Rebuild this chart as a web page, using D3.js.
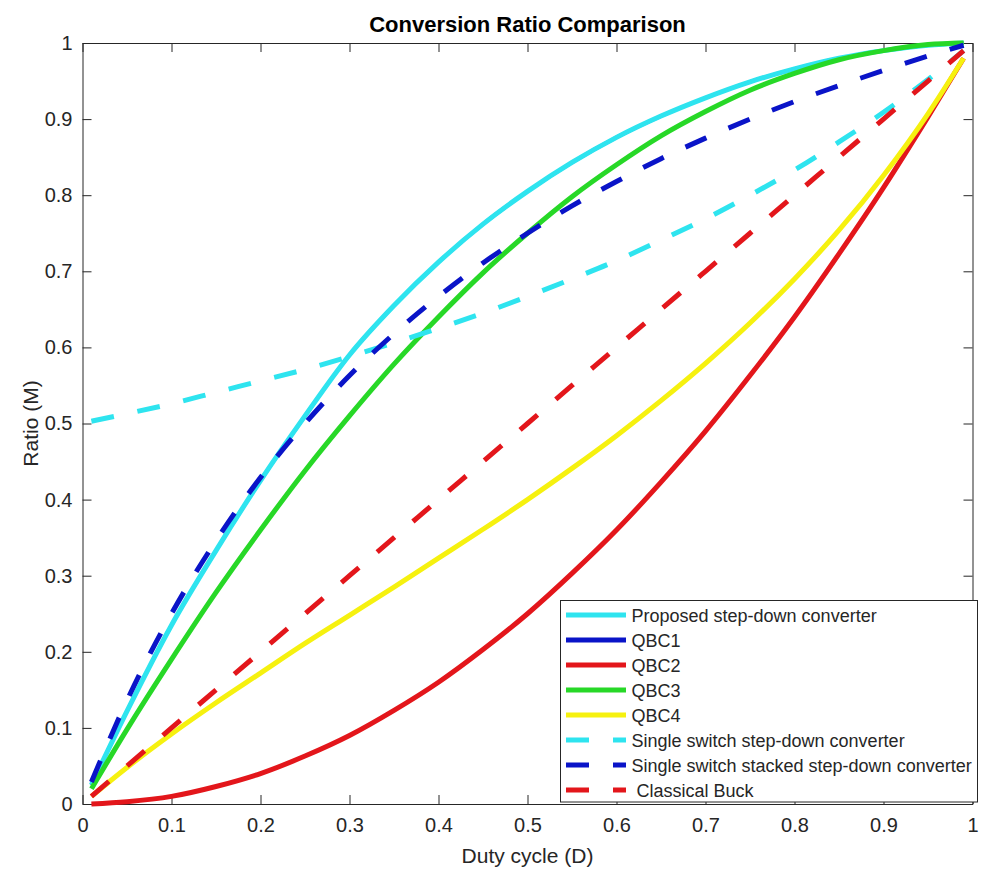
<!DOCTYPE html>
<html>
<head>
<meta charset="utf-8">
<script src="https://cdn.jsdelivr.net/npm/d3@7"></script>
<style>
  body { margin: 0; background: #fff; }
  text { font-family: "Liberation Sans", Arial, sans-serif; fill: #262626; }
</style>
</head>
<body>
<div id="chart"></div>
<script>
// Duty cycle samples (x values shared by every series)
const duty = [0.01, 0.05, 0.10, 0.15, 0.20, 0.25, 0.30, 0.35, 0.40, 0.45, 0.50,
              0.55, 0.60, 0.65, 0.70, 0.75, 0.80, 0.85, 0.90, 0.95, 0.99];

// Ratio values
const proposed = [0.025, 0.122, 0.235, 0.333, 0.425, 0.510, 0.590, 0.655, 0.712, 0.762, 0.805,
                  0.843, 0.876, 0.904, 0.928, 0.949, 0.966, 0.980, 0.990, 0.997, 1.000];
const qbc1     = [0.025, 0.122, 0.235, 0.333, 0.425, 0.510, 0.590, 0.655, 0.712, 0.762, 0.805,
                  0.843, 0.876, 0.904, 0.928, 0.949, 0.966, 0.980, 0.990, 0.997, 1.000];
const qbc2     = [0.000, 0.003, 0.010, 0.023, 0.040, 0.063, 0.090, 0.123, 0.160, 0.203, 0.250,
                  0.303, 0.360, 0.423, 0.490, 0.563, 0.640, 0.723, 0.810, 0.903, 0.980];
const qbc3     = [0.020, 0.098, 0.190, 0.278, 0.360, 0.438, 0.510, 0.578, 0.640, 0.698, 0.750,
                  0.798, 0.840, 0.878, 0.910, 0.938, 0.960, 0.978, 0.990, 0.998, 1.000];
const qbc4     = [0.010, 0.048, 0.092, 0.133, 0.172, 0.211, 0.248, 0.285, 0.323, 0.361, 0.400,
                  0.441, 0.484, 0.530, 0.579, 0.632, 0.690, 0.754, 0.826, 0.907, 0.980];
const singleSw = [0.503, 0.513, 0.526, 0.541, 0.556, 0.571, 0.588, 0.606, 0.625, 0.645, 0.667,
                  0.690, 0.714, 0.741, 0.769, 0.800, 0.833, 0.870, 0.909, 0.952, 0.990];
const stacked  = [0.029, 0.136, 0.250, 0.346, 0.429, 0.500, 0.563, 0.618, 0.667, 0.711, 0.750,
                  0.786, 0.818, 0.848, 0.875, 0.900, 0.923, 0.944, 0.964, 0.983, 0.997];
const buck     = [0.010, 0.050, 0.100, 0.150, 0.200, 0.250, 0.300, 0.350, 0.400, 0.450, 0.500,
                  0.550, 0.600, 0.650, 0.700, 0.750, 0.800, 0.850, 0.900, 0.950, 0.990];

const seriesNames = ["Proposed step-down converter", "QBC1", "QBC2", "QBC3", "QBC4",
                     "Single switch step-down converter", "Single switch stacked step-down converter",
                     " Classical Buck"];
const seriesValues = [proposed, qbc1, qbc2, qbc3, qbc4, singleSw, stacked, buck];
const seriesColors = ["#2ee4ef", "#0a14c8", "#e3161b", "#27d827", "#f6f10f", "#2ee4ef", "#0a14c8", "#e3161b"];
const seriesDashed = [false, false, false, false, false, true, true, true];
// QBC1 sits underneath the proposed curve, so draw it first
const drawOrder = [1, 0, 2, 3, 4, 5, 6, 7];

const xTicks = [0, 0.1, 0.2, 0.3, 0.4, 0.5, 0.6, 0.7, 0.8, 0.9, 1];
const yTicks = [0, 0.1, 0.2, 0.3, 0.4, 0.5, 0.6, 0.7, 0.8, 0.9, 1];

const width = 984, height = 869;
const margin = {left: 82.5, right: 11.5, top: 43, bottom: 65};
const axisColor = "#262626";
const dash = "23,24";

const svg = d3.select("#chart").append("svg")
    .attr("width", width)
    .attr("height", height);

const x = d3.scaleLinear().domain([0, 1]).range([margin.left, width - margin.right]);
const y = d3.scaleLinear().domain([0, 1]).range([height - margin.bottom, margin.top]);

// Title
svg.append("text")
    .attr("x", (x(0) + x(1)) / 2)
    .attr("y", 32)
    .attr("text-anchor", "middle")
    .style("font-size", "22px")
    .style("font-weight", "bold")
    .style("fill", "#000")
    .text("Conversion Ratio Comparison");

// Axes (ticks inside, box on)
const tickLen = 9;
svg.append("g").attr("transform", `translate(0,${y(0)})`)
    .call(d3.axisBottom(x).tickValues(xTicks).tickSizeInner(-tickLen).tickSizeOuter(0).tickPadding(14)
        .tickFormat(d3.format("~g")));
svg.append("g").attr("transform", `translate(0,${y(1)})`)
    .call(d3.axisTop(x).tickValues(xTicks).tickSizeInner(-tickLen).tickSizeOuter(0).tickFormat(""));
svg.append("g").attr("transform", `translate(${x(0)},0)`)
    .call(d3.axisLeft(y).tickValues(yTicks).tickSizeInner(-tickLen).tickSizeOuter(0).tickPadding(10)
        .tickFormat(d3.format("~g")));
svg.append("g").attr("transform", `translate(${x(1)},0)`)
    .call(d3.axisRight(y).tickValues(yTicks).tickSizeInner(-tickLen).tickSizeOuter(0).tickFormat(""));

svg.selectAll(".domain").attr("stroke", axisColor);
svg.selectAll(".tick line").attr("stroke", axisColor);
svg.selectAll(".tick text")
    .style("font-size", "20px")
    .style("font-family", "'Liberation Sans', Arial, sans-serif")
    .attr("fill", axisColor);

// Axis labels
svg.append("text")
    .attr("x", (x(0) + x(1)) / 2)
    .attr("y", 863)
    .attr("text-anchor", "middle")
    .style("font-size", "21px")
    .text("Duty cycle (D)");

svg.append("text")
    .attr("transform", `translate(38,${(y(0) + y(1)) / 2}) rotate(-90)`)
    .attr("text-anchor", "middle")
    .style("font-size", "21px")
    .text("Ratio (M)");

// Lines
const line = d3.line()
    .x((d, i) => x(duty[i]))
    .y(d => y(d))
    .curve(d3.curveMonotoneX);

svg.append("g")
    .selectAll("path")
    .data(drawOrder)
    .enter()
    .append("path")
    .attr("d", i => line(seriesValues[i]))
    .attr("fill", "none")
    .attr("stroke", i => seriesColors[i])
    .attr("stroke-width", i => i === 1 ? 3.5 : 5)
    .attr("stroke-dasharray", i => seriesDashed[i] ? dash : null);

// Legend
const legend = svg.append("g");
const lgX = 560.5, lgY = 600.5, lgW = 417, lgH = 201.5;
legend.append("rect")
    .attr("x", lgX).attr("y", lgY)
    .attr("width", lgW).attr("height", lgH)
    .attr("fill", "#fff")
    .attr("stroke", axisColor)
    .attr("stroke-width", 1);

const items = legend.selectAll("g.item")
    .data(seriesNames)
    .enter()
    .append("g")
    .attr("class", "item")
    .attr("transform", (d, i) => `translate(${lgX}, ${615 + i * 25})`);

items.append("line")
    .attr("x1", 5.5).attr("x2", 65.5)
    .attr("y1", 0).attr("y2", 0)
    .attr("stroke", (d, i) => seriesColors[i])
    .attr("stroke-width", 5)
    .attr("stroke-dasharray", (d, i) => seriesDashed[i] ? dash : null);

items.append("text")
    .attr("x", 71)
    .attr("y", 6.5)
    .style("font-size", "18px")
    .style("white-space", "pre")
    .attr("fill", "#000")
    .text(d => d);
</script>
</body>
</html>
